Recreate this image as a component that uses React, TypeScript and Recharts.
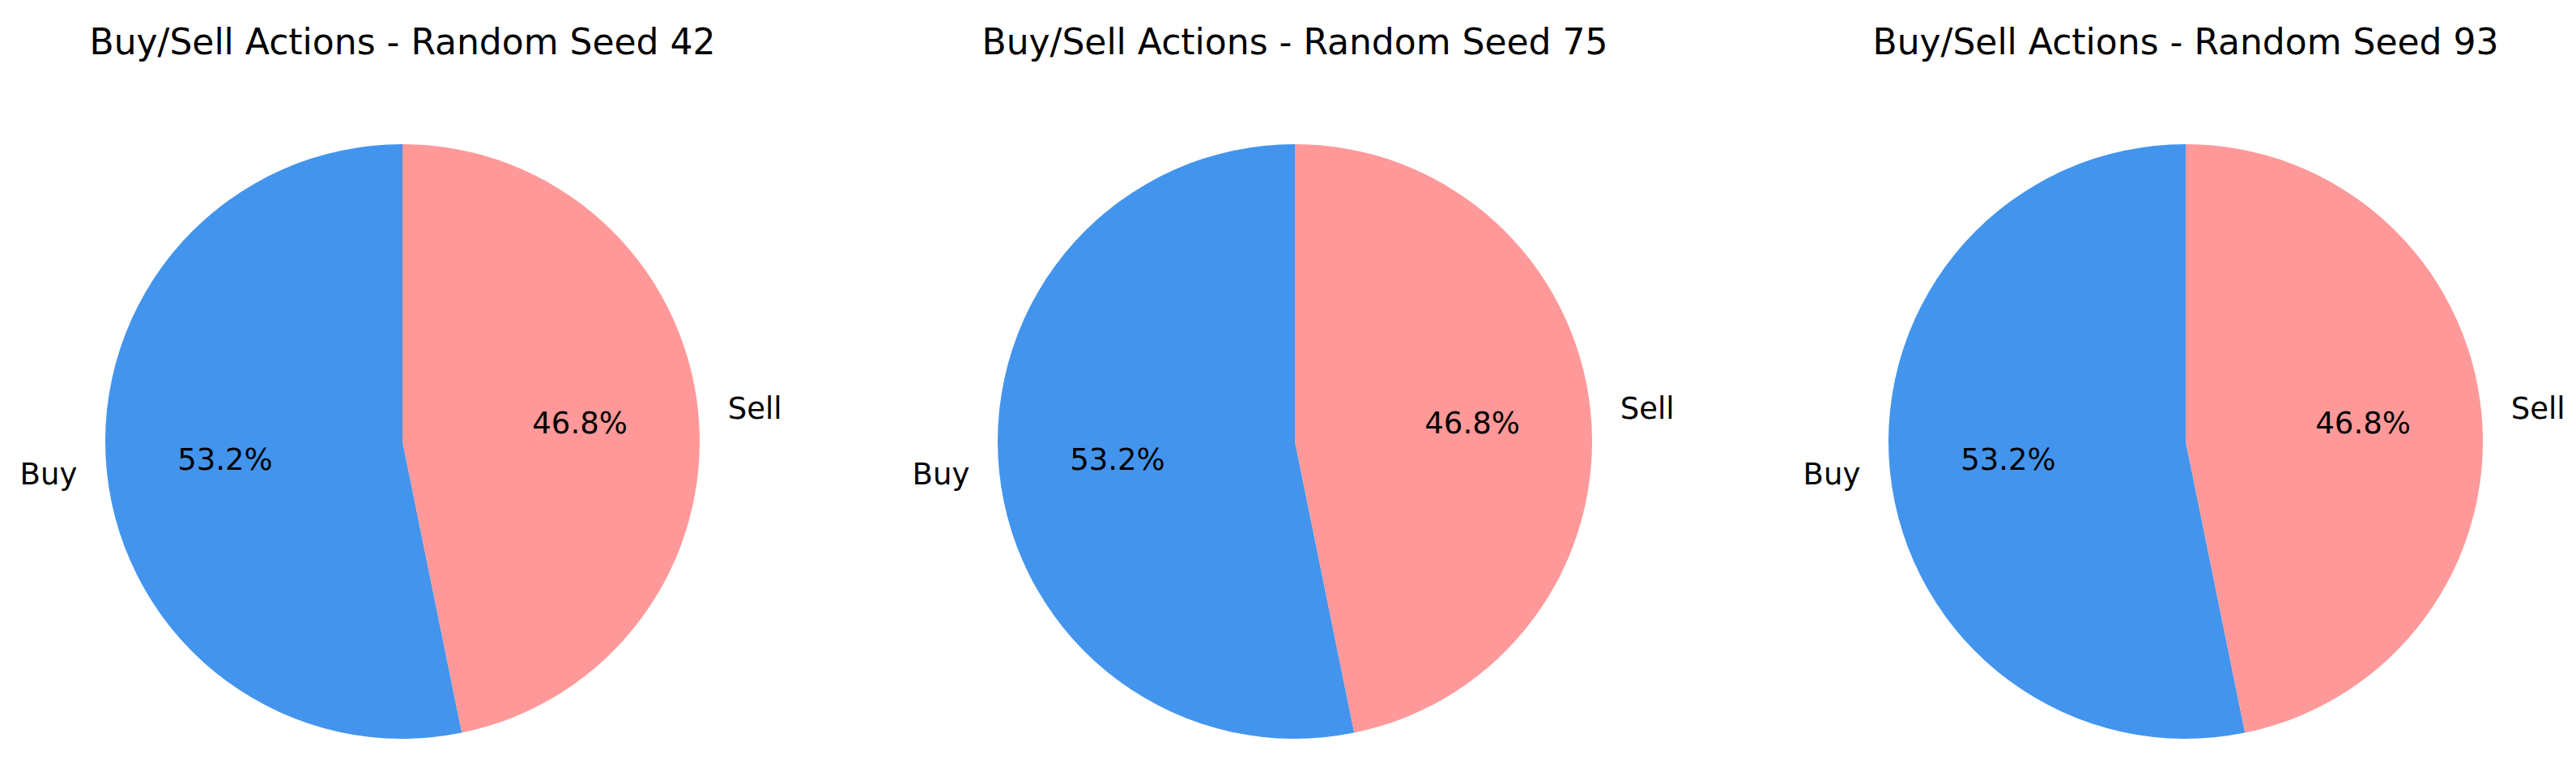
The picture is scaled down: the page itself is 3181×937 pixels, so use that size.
import React from "react";
import { PieChart, Pie, Cell } from "recharts";

// Values
const seeds = [42, 75, 93];
const actionLabels = ["Buy", "Sell"];
const buyShares = [53.2, 53.2, 53.2];
const sellShares = [46.8, 46.8, 46.8];
const actionColors = ["#4394ed", "#ff9999"];

const centersX = [497, 1599, 2699];
const chartW = 1100;
const chartH = 937;
const pieCy = 545;
const pieR = 367;
const font = "'DejaVu Sans', sans-serif";

const RAD = Math.PI / 180;

const renderLabel = (props: any) => {
  const { cx, cy, midAngle, outerRadius, percent, name } = props;
  const cos = Math.cos(-midAngle * RAD);
  const sin = Math.sin(-midAngle * RAD);
  const nx = cx + outerRadius * 1.1 * cos;
  const ny = cy + outerRadius * 1.1 * sin;
  const px = cx + outerRadius * 0.6 * cos;
  const py = cy + outerRadius * 0.6 * sin;
  return (
    <g>
      <text
        x={nx}
        y={ny}
        textAnchor={cos >= 0 ? "start" : "end"}
        dominantBaseline="central"
        fill="#000"
        fontSize={37}
        fontFamily={font}
      >
        {name}
      </text>
      <text
        x={px}
        y={py}
        textAnchor="middle"
        dominantBaseline="central"
        fill="#000"
        fontSize={37}
        fontFamily={font}
      >
        {(percent * 100).toFixed(1)}%
      </text>
    </g>
  );
};

const App: React.FC = () => {
  return (
    <div
      style={{
        position: "absolute",
        left: 0,
        top: 0,
        width: 3181,
        height: 937,
        background: "#fff",
        overflow: "hidden",
      }}
    >
      {seeds.map((seed, i) => {
        const data = [
          { name: actionLabels[0], value: buyShares[i] },
          { name: actionLabels[1], value: sellShares[i] },
        ];
        const left = centersX[i] - chartW / 2;
        return (
          <div key={seed}>
            {/* Title */}
            <div
              style={{
                position: "absolute",
                left,
                top: 26,
                width: chartW,
                textAlign: "center",
                fontFamily: font,
                fontSize: 44,
                color: "#000",
                whiteSpace: "nowrap",
              }}
            >
              Buy/Sell Actions - Random Seed {seed}
            </div>
            <div style={{ position: "absolute", left, top: 0 }}>
              <PieChart width={chartW} height={chartH} margin={{ top: 0, right: 0, bottom: 0, left: 0 }}>
                <Pie
                  data={data}
                  dataKey="value"
                  nameKey="name"
                  cx={chartW / 2}
                  cy={pieCy}
                  outerRadius={pieR}
                  startAngle={90}
                  endAngle={450}
                  stroke="none"
                  label={renderLabel}
                  labelLine={false}
                  isAnimationActive={false}
                >
                  {data.map((entry, j) => (
                    <Cell key={`cell-${j}`} fill={actionColors[j]} />
                  ))}
                </Pie>
              </PieChart>
            </div>
          </div>
        );
      })}
    </div>
  );
};

export default App;
